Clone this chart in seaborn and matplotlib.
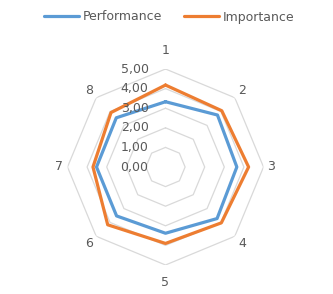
import numpy as np
import pandas as pd
import matplotlib
matplotlib.use("Agg")
import matplotlib.pyplot as plt
import seaborn as sns

categories = ["1", "2", "3", "4", "5", "6", "7", "8"]
performance = [3.33, 3.75, 3.64, 3.72, 3.38, 3.53, 3.52, 3.55]
importance = [4.18, 4.06, 4.24, 4.03, 3.90, 4.17, 3.70, 3.93]
radial_ticks = [0, 1, 2, 3, 4, 5]
radial_labels = ["0,00", "1,00", "2,00", "3,00", "4,00", "5,00"]
series_names = ["Performance", "Importance"]
colors = {"Performance": "#5B9BD5", "Importance": "#ED7D31"}

sns.set_theme(style="white")
plt.rcParams["font.family"] = ["DejaVu Sans"]
TXT = "#595959"

W, H = 333, 294
cx, cy, R = 165.5, 167, 98
fig = plt.figure(figsize=(W / 100, H / 100), dpi=100)
ax = fig.add_axes([(cx - R) / W, 1 - (cy + R) / H, 2 * R / W, 2 * R / H],
                  projection="polar")
ax.set_theta_zero_location("N")
ax.set_theta_direction(-1)
ax.set_facecolor("none")

n = len(categories)
angles = np.arange(n) * 2 * np.pi / n

rows = []
for name, vals in zip(series_names, [performance, importance]):
    for i in range(n + 1):
        rows.append({"series": name,
                     "theta": angles[i % n] if i < n else 2 * np.pi,
                     "value": vals[i % n]})
df = pd.DataFrame(rows)

# polygon grid
ring_theta = np.append(angles, 2 * np.pi)
for t in radial_ticks[1:]:
    ax.plot(ring_theta, [t] * (n + 1), color="#D9D9D9", lw=0.9, zorder=0)

sns.lineplot(data=df, x="theta", y="value", hue="series", hue_order=series_names,
             palette=colors, sort=False, estimator=None, linewidth=2.3, ax=ax)

ax.set_ylim(0, 5)
ax.grid(False)
ax.spines["polar"].set_visible(False)
ax.set_xticks([])
ax.set_yticks([])
ax.set_xlabel("")
ax.set_ylabel("")

for t, lab in zip(radial_ticks, radial_labels):
    ax.annotate(lab, xy=(0, t), xytext=(-17, 0), textcoords="offset pixels",
                ha="right", va="center", fontsize=9, color=TXT)

for a, lab in zip(angles, categories):
    rpx = 106 + 10 * np.cos(a) ** 4
    ax.text(a, 5 * rpx / R, lab, ha="center", va="center", fontsize=9, color=TXT)

handles, labels = ax.get_legend_handles_labels()
if ax.get_legend() is not None:
    ax.get_legend().remove()
leg = fig.legend(handles, labels, loc="center", bbox_to_anchor=(169 / W, 1 - 17 / H),
                 ncol=2, frameon=False, fontsize=9, handlelength=2.8,
                 handletextpad=0.3, columnspacing=1.8)
for t in leg.get_texts():
    t.set_color(TXT)
for l in leg.get_lines():
    l.set_linewidth(2.3)

fig.savefig("out.png", dpi=100)
